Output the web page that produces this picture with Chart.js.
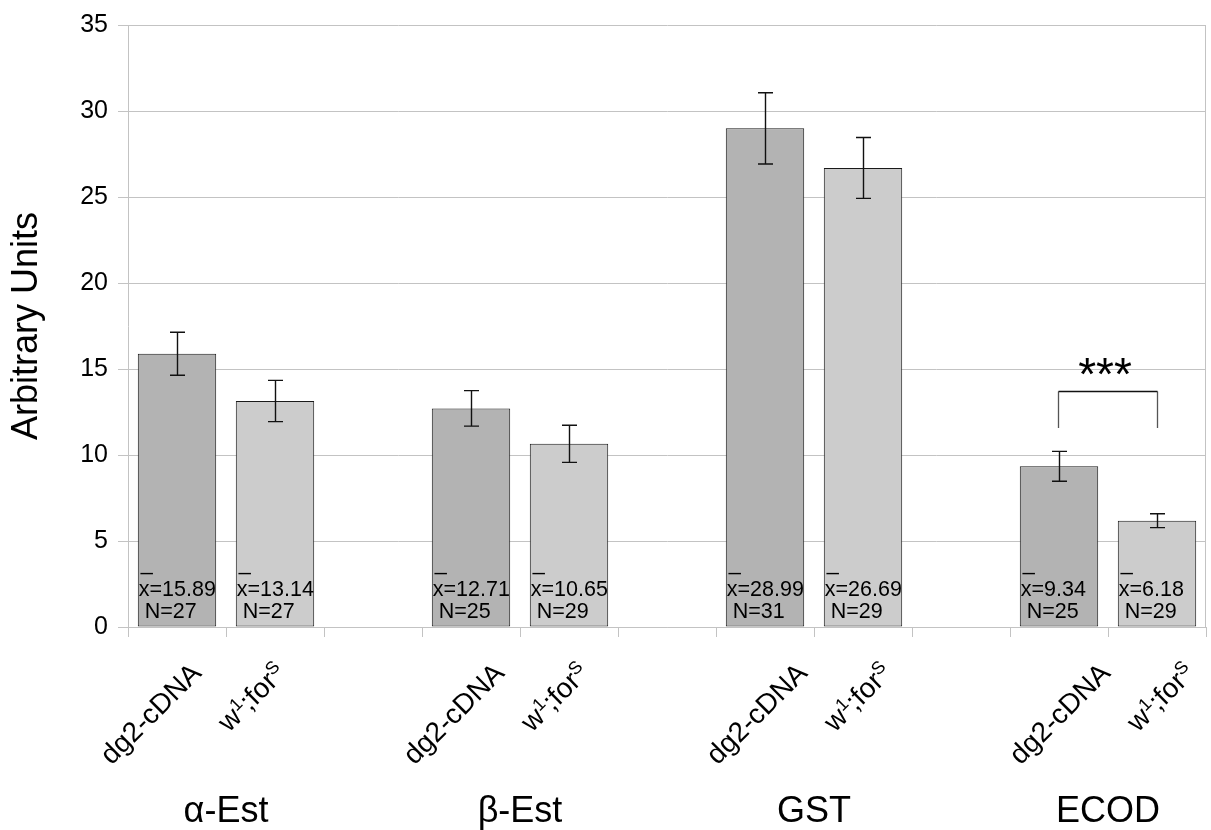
<!DOCTYPE html>
<html>
<head>
<meta charset="utf-8">
<title>Detoxification enzyme activity</title>
<script src="https://cdn.jsdelivr.net/npm/chart.js@4/dist/chart.umd.min.js"></script>
<style>
  html, body { margin: 0; padding: 0; background: #ffffff; }
  #wrap { width: 1211px; height: 830px; position: relative; }
</style>
</head>
<body>
<div id="wrap"><canvas id="c" width="1211" height="830"></canvas></div>
<script>
// Enzyme assays, two strains per assay
const groups = ['α-Est', 'β-Est', 'GST', 'ECOD'];
const strains = ['dg2-cDNA', 'w1;forS'];
const meanDg2 = [15.89, 12.71, 28.99, 9.34];
const meanW1 = [13.14, 10.65, 26.69, 6.18];
const errDg2 = [1.25, 1.03, 2.07, 0.87];
const errW1 = [1.20, 1.08, 1.77, 0.40];
const nDg2 = [27, 25, 31, 25];
const nW1 = [27, 29, 29, 29];
const yTicks = [0, 5, 10, 15, 20, 25, 30, 35];
const significant = ['', '', '', '***'];

// strain names with superscript runs for the axis
const strainParts = [
  [['dg2-cDNA', false]],
  [['w', false], ['1', true], [';for', false], ['S', true]]
];

const FONT = '"Liberation Sans", Arial, Helvetica, sans-serif';
const DARK = '#b3b3b3';
const LIGHT = '#cccccc';
const GRID = '#c3c3c3';

// one slot per bar, with an empty slot between assays
const labels = [], values = [], errs = [], counts = [], colors = [], strainIdx = [];
groups.forEach((g, gi) => {
  labels.push(strains[0]); values.push(meanDg2[gi]); errs.push(errDg2[gi]); counts.push(nDg2[gi]); colors.push(DARK); strainIdx.push(0);
  labels.push(strains[1]); values.push(meanW1[gi]); errs.push(errW1[gi]); counts.push(nW1[gi]); colors.push(LIGHT); strainIdx.push(1);
  if (gi < groups.length - 1) {
    labels.push(''); values.push(null); errs.push(null); counts.push(null); colors.push(DARK); strainIdx.push(-1);
  }
});

const decorations = {
  id: 'decorations',
  afterDatasetsDraw(chart) {
    const ctx = chart.ctx;
    const ys = chart.scales.y;
    const area = chart.chartArea;
    const meta = chart.getDatasetMeta(0);
    ctx.save();

    // right frame edge
    ctx.strokeStyle = GRID;
    ctx.lineWidth = 1;
    ctx.beginPath();
    ctx.moveTo(Math.round(area.right) - 0.5, area.top);
    ctx.lineTo(Math.round(area.right) - 0.5, area.bottom);
    ctx.stroke();

    meta.data.forEach((bar, i) => {
      const v = values[i];
      if (v == null) return;
      const e = errs[i];
      const cx = Math.round(bar.x) + 0.5;
      const yt = ys.getPixelForValue(v + e);
      const yb = ys.getPixelForValue(v - e);
      // error bar
      ctx.strokeStyle = '#111111';
      ctx.lineWidth = 1.4;
      ctx.beginPath();
      ctx.moveTo(cx, yt); ctx.lineTo(cx, yb);
      ctx.moveTo(cx - 7.5, yt); ctx.lineTo(cx + 7.5, yt);
      ctx.moveTo(cx - 7.5, yb); ctx.lineTo(cx + 7.5, yb);
      ctx.stroke();

      // mean and count inside the bar
      const left = bar.x - bar.width / 2 + 1;
      const bottom = ys.getPixelForValue(0);
      ctx.fillStyle = '#000000';
      ctx.font = '21.5px ' + FONT;
      ctx.textAlign = 'left';
      ctx.textBaseline = 'alphabetic';
      ctx.fillText('_', left + 2, bottom - 57);
      ctx.fillText('x=' + v.toFixed(2), left, bottom - 31.5);
      ctx.fillText(' N=' + counts[i], left, bottom - 9.5);
    });

    // significance bracket
    significant.forEach((mark, gi) => {
      if (!mark) return;
      const b0 = meta.data[gi * 3];
      const b1 = meta.data[gi * 3 + 1];
      const x0 = Math.round(b0.x) - 0.5, x1 = Math.round(b1.x) + 0.5;
      const top = Math.round(ys.getPixelForValue(13.7)) + 0.5;
      const legEnd = ys.getPixelForValue(11.57);
      ctx.strokeStyle = '#555555';
      ctx.lineWidth = 1.3;
      ctx.beginPath();
      ctx.moveTo(x0, top); ctx.lineTo(x0, legEnd);
      ctx.moveTo(x1, top); ctx.lineTo(x1, legEnd);
      ctx.stroke();
      ctx.strokeStyle = '#111111';
      ctx.beginPath();
      ctx.moveTo(x0, top); ctx.lineTo(x1, top);
      ctx.stroke();
      ctx.fillStyle = '#000000';
      ctx.font = '46px ' + FONT;
      ctx.textAlign = 'center';
      ctx.textBaseline = 'alphabetic';
      const m = ctx.measureText(mark);
      // centre the glyphs' ink about 25px above the bracket
      const inkCentre = top - 25.5;
      const base = inkCentre + (m.actualBoundingBoxAscent - m.actualBoundingBoxDescent) / 2;
      ctx.fillText(mark, (x0 + x1) / 2 - 3, base);
    });
    ctx.restore();
  },
  afterDraw(chart) {
    const ctx = chart.ctx;
    const xs = chart.scales.x;
    const area = chart.chartArea;
    ctx.save();
    ctx.fillStyle = '#000000';
    const fs = 28;
    // rotated strain labels, spread slightly wider than the slots
    labels.forEach((lab, i) => {
      const si = strainIdx[i];
      if (si < 0) return;
      const parts = strainParts[si];
      let L = 0;
      const widths = parts.map(([t, sup]) => {
        ctx.font = (sup ? Math.round(fs * 0.65) : fs) + 'px ' + FONT;
        const w = ctx.measureText(t).width;
        L += w;
        return w;
      });
      const bh = 0.7071 * (L + fs * 0.95);
      const cx = xs.getPixelForValue(i) - 27 + 3 * i;
      const cy = area.bottom + 31 + bh / 2;
      ctx.save();
      ctx.translate(cx, cy);
      ctx.rotate(-Math.PI / 4);
      ctx.textAlign = 'left';
      ctx.textBaseline = 'alphabetic';
      let px = -L / 2;
      parts.forEach(([t, sup], k) => {
        ctx.font = (sup ? Math.round(fs * 0.65) : fs) + 'px ' + FONT;
        ctx.fillText(t, px, fs * 0.36 - (sup ? fs * 0.34 : 0));
        px += widths[k];
      });
      ctx.restore();
    });
    // assay names
    ctx.font = '36px ' + FONT;
    ctx.textAlign = 'center';
    ctx.textBaseline = 'alphabetic';
    groups.forEach((g, gi) => {
      const c = (xs.getPixelForValue(gi * 3) + xs.getPixelForValue(gi * 3 + 1)) / 2;
      ctx.fillText(g, c, 822);
    });
    ctx.restore();
  }
};

new Chart(document.getElementById('c'), {
  type: 'bar',
  data: {
    labels: labels,
    datasets: [{
      data: values,
      backgroundColor: colors,
      borderColor: '#1a1a1a',
      borderWidth: 1,
      borderSkipped: false,
      categoryPercentage: 1.0,
      barPercentage: 0.8
    }]
  },
  options: {
    responsive: false,
    animation: false,
    devicePixelRatio: 1,
    layout: { padding: { top: 22, right: 5, left: 0, bottom: 0 } },
    plugins: { legend: { display: false }, tooltip: { enabled: false } },
    scales: {
      x: {
        type: 'category',
        offset: true,
        grid: { offset: true, drawOnChartArea: false, drawTicks: true, tickLength: 10, color: GRID, lineWidth: 1 },
        border: { display: true, color: GRID, width: 1 },
        ticks: { display: false },
        afterFit(scale) { scale.height = 203; }
      },
      y: {
        min: 0,
        max: 35,
        afterBuildTicks(scale) { scale.ticks = yTicks.map(v => ({ value: v })); },
        grid: { color: GRID, lineWidth: 1, tickLength: 10, drawTicks: true },
        border: { display: true, color: GRID, width: 1 },
        ticks: {
          color: '#000000',
          padding: 10,
          font: { family: FONT, size: 25 }
        },
        title: {
          display: true,
          text: 'Arbitrary Units',
          color: '#000000',
          font: { family: FONT, size: 36 },
          padding: { top: 5, bottom: 0 }
        },
        afterFit(scale) { scale.width = 128; }
      }
    }
  },
  plugins: [decorations]
});
</script>
</body>
</html>
